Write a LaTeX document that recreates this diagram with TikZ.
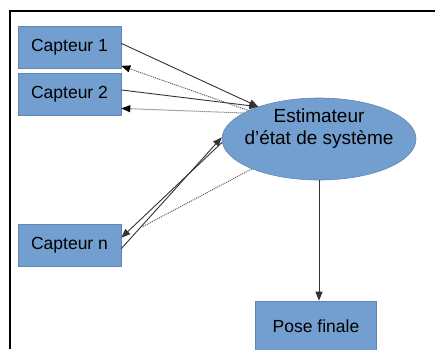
\documentclass[tikz,border=0pt]{standalone}
\usepackage{fontspec}
\setmainfont{Liberation Sans}
\usetikzlibrary{shapes.geometric,arrows.meta}
\definecolor{boxblue}{HTML}{729FCF}
\definecolor{lineg}{HTML}{333333}

\begin{document}
\begin{tikzpicture}[x=1pt,y=-1pt,
    capteur/.style={rectangle, draw=boxblue!85!black, line width=0.6pt, fill=boxblue, minimum width=103pt, minimum height=42pt, inner sep=0pt, font=\fontsize{17.5}{21}\selectfont},
    fleche/.style={draw=lineg, line width=0.9pt, -{Triangle[length=9pt,width=7pt]}},
    pointille/.style={draw=gray!70!black, densely dotted, line width=1pt},
    retour/.style={pointille, -{Triangle[length=9pt,width=7pt,color=black]}}]
    \useasboundingbox (0,0) rectangle (435,349);
    \draw[line width=1.3pt] (10,349) -- (10,11) -- (435,11);

    \node[capteur] (S1) at (69.5,47) {Capteur 1};
    \node[capteur] (S2) at (69.5,94.5) {Capteur 2};
    \node[capteur] (Sn) at (69.5,245) {Capteur n};
    \node[ellipse, fill=boxblue, draw=boxblue!85!black, line width=0.6pt, minimum width=194pt, minimum height=82pt, inner sep=0pt,
        label={[align=center, yshift=10pt, font=\fontsize{19}{22}\selectfont]center:Estimateur\\d’état de système}] (E) at (319,139) {};
    \node[capteur, minimum width=121pt, minimum height=51pt] (P) at (316,326.5) {Pose finale};
    \coordinate (m) at (142,227);

    \draw[fleche] (S1.4) -- (E.152);
    \draw[fleche] (S2.5) -- (E.152);
    \draw[retour] (E.158) -- (S1.-20);
    \draw[retour] (E.161) -- (S2.-15);
    \draw[fleche] (Sn.-4) -- (E.179);
    \draw[fleche] (E.182) -- (Sn.8);
    \draw[pointille] (E.204) -- (m);
    \draw[fleche] (E.south) -- (E.south |- P.north);
\end{tikzpicture}
\end{document}
